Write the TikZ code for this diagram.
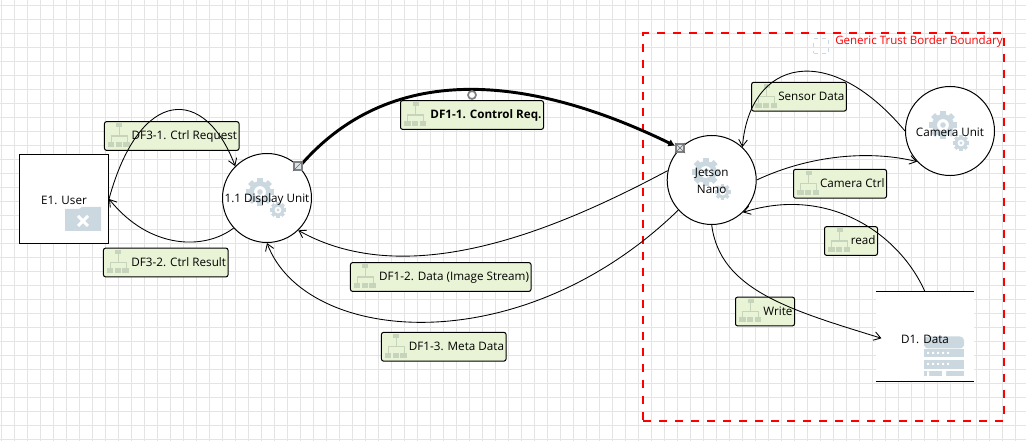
\documentclass[tikz,border=0pt]{standalone}
\usepackage{fontspec}
\setmainfont{Open Sans}
\usetikzlibrary{arrows.meta}
\definecolor{flowfill}{HTML}{E9F3D6}
\definecolor{treecol}{HTML}{C6D4BC}
\definecolor{iconcol}{HTML}{CBD8E0}
\definecolor{gridcol}{HTML}{E4E4E4}

\newcommand{\gearicon}[3]{%
  \begin{scope}[shift={(#1,#2)}]
    \foreach \a in {0,45,90,135}
      \fill[iconcol,rotate=\a] (-.2*#3,-#3) rectangle (.2*#3,#3);
    \fill[iconcol] (0,0) circle (.78*#3);
    \fill[white] (0,0) circle (.42*#3);
    \fill[iconcol] (0,0) circle (.2*#3);
  \end{scope}}

\tikzset{
pics/gears/.style 2 args={code={
  \gearicon{#1}{#2}{14}
  \gearicon{11}{12}{8}
}},
pics/treeicon/.style={code={
  \fill[treecol] (12.5,-12.5) rectangle (18.5,-8.5);
  \draw[treecol,line width=.9pt] (15.5,-8.5) -- (15.5,0) (7.5,6) |- (23.5,0) -- (23.5,6);
  \fill[treecol] (4,6) rectangle (10.5,11);
  \fill[treecol] (12.2,6) rectangle (18.2,11);
  \fill[treecol] (19.5,6) rectangle (26,11);
}},
pics/foldericon/.style={code={
  \fill[iconcol] (1,10) -- (15,10) -- (18,8) -- (37,8) -- (37,32) -- (1,32) -- cycle;
  \draw[white,line width=2.2pt] (14,17) -- (24,27) (24,17) -- (14,27);
}},
pics/storeicon/.style={code={
  \fill[iconcol,rounded corners=3pt] (-1,0) rectangle (39,12);
  \fill[iconcol] (-1,5) rectangle (39,10);
  \fill[iconcol] (-1,12.5) rectangle (39,20.5);
  \fill[iconcol] (-1,23.5) rectangle (39,33);
  \fill[iconcol] (-1,35) rectangle (39,40);
  \foreach \x in {2,7,12,17,22}
    \fill[white] (\x,15.5) rectangle +(2,2) (\x,26.5) rectangle +(2,2);
  \fill[white] (2,35) rectangle (4,40) (17,33) rectangle (21,40);
}},
}

\begin{document}
\begin{tikzpicture}
[x=.75pt,y=-.75pt,font=\fontsize{8.75}{12.75}\selectfont,
gridline/.style={gridcol,line width=.75pt},
every node/.style={inner sep=0pt},
flowbox/.style={draw,line width=.75pt,fill=flowfill,rounded corners=1.5pt,
  minimum height=21.5pt,inner xsep=1.5pt,align=flush right,text width=#1,
  text height=6.5pt,text depth=.5pt},
process/.style={circle,draw,line width=.75pt,fill=white,minimum size=66.75pt},
caption/.style={align=center,yshift=-.75pt},
flowline/.style={line width=.65pt,-{Straight Barb[length=5pt,width=6.5pt]}},
handle/.style={rectangle,draw=black!50,line width=1.3pt,fill=iconcol!70,minimum size=6.5pt},
]
\useasboundingbox (0,0) rectangle (1026,441);
\fill[white] (0,0) rectangle (1026,441);
\foreach \x in {0,...,78}
  \draw[gridline] (1.3+13*\x,0) -- (1.3+13*\x,441);
\foreach \y in {0,...,31}
  \draw[gridline] (0,5.3+14*\y) -- (1026,5.3+14*\y);

\node[draw=red,dash pattern=on 6pt off 6pt,line width=1.9pt,minimum width=270.5pt,minimum height=291pt] (trust) at (823.5,227) {};
\node[draw=iconcol,dashed,line width=1.2pt,minimum size=11pt] (trusticon) at (821,46) {};
\node[text=red,anchor=east,font=\fontsize{8.65}{12.75}\selectfont] (trustlabel) at (1003,41.5) {Generic Trust Border Boundary};

\node[flowbox=97.9pt] (req) at (171.75,136) {DF3-1. Ctrl Request};
\node[flowbox=90.4pt] (res) at (165.75,262.5) {DF3-2. Ctrl Result};
\node[flowbox=104.25pt,font=\fontsize{8.75}{12.75}\selectfont\bfseries] (ctrl) at (472,115) {DF1-1. Control Req.};
\node[flowbox=132.4pt] (image) at (440.75,277) {DF1-2. Data (Image Stream)};
\node[flowbox=90.4pt] (meta) at (443.75,346.75) {DF1-3. Meta Data};
\node[flowbox=68.1pt] (sensor) at (799,96.7) {Sensor Data};
\node[flowbox=66.75pt] (camctrl) at (840,183.75) {Camera Ctrl};
\node[flowbox=36.75pt] (read) at (851,241) {read};
\node[flowbox=41.25pt] (write) at (765,311.5) {Write};
\foreach \n in {req,res,ctrl,image,meta,sensor,camctrl,read,write}
  \pic at (\n.west) {treeicon};

\node[draw,line width=.75pt,fill=white,minimum size=66.75pt] (user) at (64,199) {};
\node[process] (display) at (267,198) {};
\node[process] (jetson) at (711.7,180) {};
\node[process] (camera) at (950,131) {};
\node[fill=white,minimum width=73.5pt,minimum height=66.75pt] (store) at (925,336.5) {};
\draw[line width=.75pt] (store.north west) -- (store.north east) (store.south west) -- (store.south east);

\pic at (user) {foldericon};
\pic at (display) {gears={-7}{-6}};
\pic at (jetson) {gears={-6}{-8}};
\pic at (camera) {gears={-7}{-6}};
\pic at (store) {storeicon};

\node[caption] (usertext) at (user) {E1. User};
\node[caption] (displaytext) at (display) {1.1 Display Unit};
\node[caption] (jetsontext) at (jetson) {Jetson\\Nano};
\node[caption] (cameratext) at (camera) {Camera Unit};
\node[caption] (storetext) at (925,338) {D1. Data};

\draw[flowline] (user.east) .. controls (140,86) and (205,86) .. (display.135);
\draw[flowline] (display.222) .. controls (205,250) and (150,250) .. (user.east);
\draw[line width=2.2pt,shorten >=4pt,-{Latex[length=5pt,width=6pt]}] (display.44) .. controls (395,55) and (540,80) .. (jetson.135);
\draw[flowline] (jetson.168) .. controls (560,228) and (410,293) .. (display.-46);
\draw[flowline] (jetson.222) .. controls (520,364) and (305,344) .. (display.270);
\draw[flowline] (camera.180) .. controls (829,40) and (750,59) .. (jetson.47);
\draw[flowline] (jetson.0) .. controls (810,155) and (870,150) .. (camera.223);
\draw[flowline] (store.north) .. controls (900,235) and (830,185) .. (jetson.-46);
\draw[flowline,shorten >=-4.5pt] (jetson.270) .. controls (720,290) and (790,310) .. (store.west);

\node[handle] (handlea) at (298,166) {};
\node[handle] (handleb) at (680,148) {};
\node[circle,draw=black!50,line width=1.3pt,fill=white,minimum size=6pt] (handlec) at (472,95) {};
\draw[black!60,line width=.5pt] (handlea.south west) -- (handlea.north east) (handleb.north west) -- (handleb.south east) (handleb.south west) -- (handleb.north east);
\end{tikzpicture}
\end{document}
